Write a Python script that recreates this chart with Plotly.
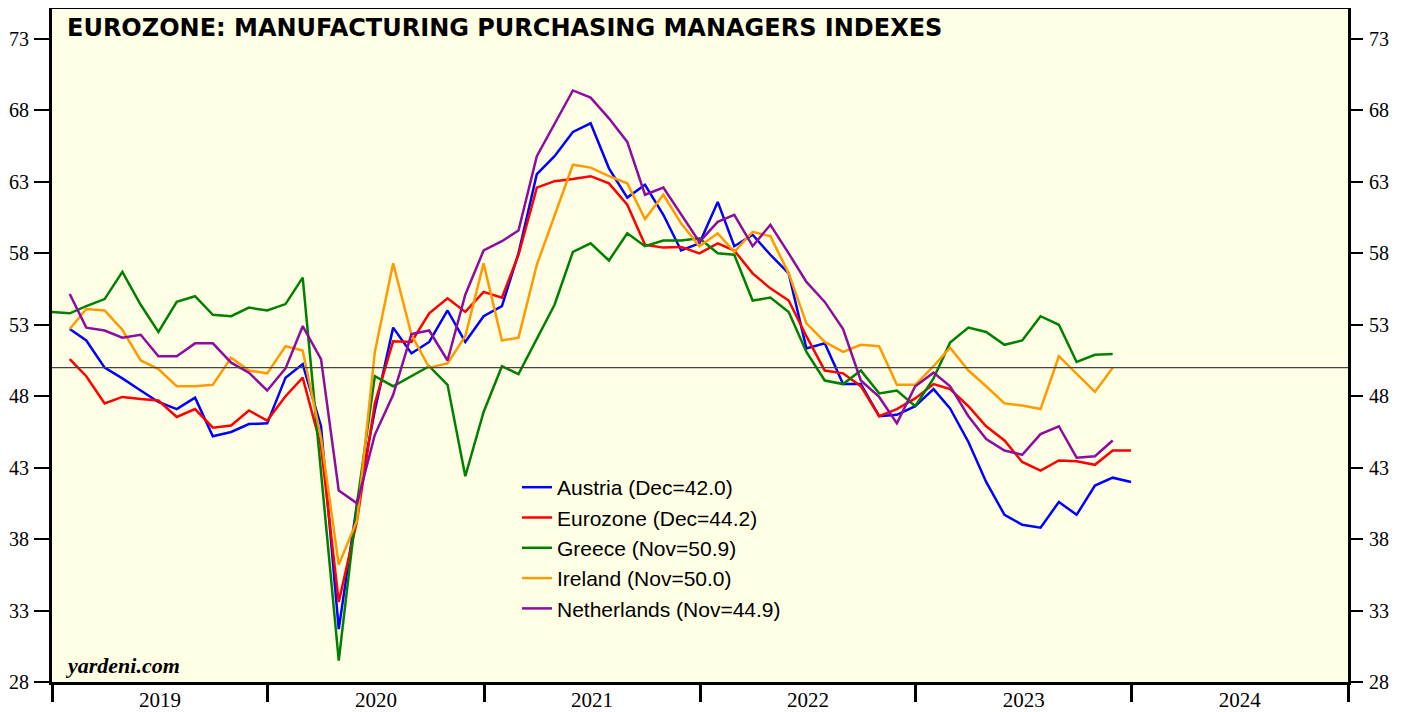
import pandas as pd
import plotly.graph_objects as go

# ---- data (monthly, plotted at month end) ----
austria = [52.7, 51.9, 50.0, 49.25, 48.4, 47.6, 47.1, 47.9, 45.2, 45.5, 46.05, 46.1,
           49.3, 50.25, 45.9, 31.7, 40.5, 47.0, 52.8, 51.0, 51.8, 54.0, 51.8, 53.6,
           54.3, 58.0, 63.55, 64.8, 66.5, 67.1, 63.95, 61.9, 62.8, 60.7, 58.2, 58.7,
           61.6, 58.5, 59.3, 57.9, 56.6, 51.35, 51.7, 48.85, 48.85, 46.6, 46.7, 47.3,
           48.5, 47.15, 44.8, 42.0, 39.7, 39.0, 38.8, 40.6, 39.7, 41.75, 42.3, 42.0]
eurozone = [50.6, 49.4, 47.5, 47.95, 47.8, 47.7, 46.55, 47.1, 45.8, 45.95, 47.0, 46.3,
            48.0, 49.3, 44.5, 33.6, 39.3, 47.5, 51.85, 51.8, 53.8, 54.85, 53.9, 55.3,
            54.9, 57.9, 62.6, 63.05, 63.2, 63.4, 62.9, 61.4, 58.6, 58.4, 58.45, 58.0,
            58.7, 58.2, 56.6, 55.55, 54.7, 52.2, 49.8, 49.6, 48.7, 46.6, 47.1, 47.85,
            48.85, 48.5, 47.3, 45.9, 44.9, 43.4, 42.8, 43.5, 43.45, 43.2, 44.2, 44.2]
greece = [53.9,
          53.8, 54.3, 54.8, 56.7, 54.4, 52.5, 54.6, 55.0, 53.7, 53.6, 54.2, 54.0,
          54.45, 56.3, 42.5, 29.5, 40.5, 49.4, 48.7, 49.4, 50.1, 48.8, 42.4, 46.9,
          50.1, 49.55, 52.0, 54.4, 58.1, 58.7, 57.5, 59.4, 58.5, 58.9, 58.9, 59.05,
          58.0, 57.9, 54.7, 54.9, 53.9, 51.1, 49.1, 48.85, 49.8, 48.2, 48.4, 47.3,
          49.25, 51.75, 52.8, 52.5, 51.6, 51.9, 53.6, 53.0, 50.4, 50.9, 50.95]
ireland = [52.7, 54.1, 54.0, 52.65, 50.5, 49.9, 48.7, 48.7, 48.8, 50.7, 49.8, 49.6,
           51.5, 51.2, 45.1, 36.2, 39.3, 51.1, 57.3, 52.3, 50.0, 50.3, 52.2, 57.3,
           51.9, 52.1, 57.2, 60.6, 64.2, 64.0, 63.4, 62.9, 60.4, 62.1, 60.1, 58.5,
           59.4, 58.1, 59.5, 59.2, 56.6, 53.1, 51.8, 51.1, 51.6, 51.5, 48.8, 48.8,
           50.1, 51.4, 49.8, 48.7, 47.5, 47.35, 47.1, 50.8, 49.6, 48.3, 50.0]
netherlands = [55.15, 52.8, 52.6, 52.1, 52.3, 50.8, 50.8, 51.7, 51.7, 50.35, 49.65, 48.4,
               49.95, 52.9, 50.6, 41.4, 40.5, 45.3, 48.1, 52.35, 52.6, 50.5, 55.1, 58.2,
               58.85, 59.6, 64.8, 67.1, 69.4, 68.9, 67.45, 65.8, 62.1, 62.6, 60.7, 58.8,
               60.2, 60.7, 58.5, 60.0, 58.0, 56.0, 54.6, 52.7, 49.1, 47.95, 46.1, 48.7,
               49.65, 48.7, 46.6, 45.0, 44.2, 43.9, 45.35, 45.9, 43.7, 43.8, 44.9]

series_names = ["Austria (Dec=42.0)", "Eurozone (Dec=44.2)", "Greece (Nov=50.9)",
                "Ireland (Nov=50.0)", "Netherlands (Nov=44.9)"]
series_start = ["2019-02-01", "2019-02-01", "2019-01-01", "2019-02-01", "2019-02-01"]
series_values = [austria, eurozone, greece, ireland, netherlands]
series_colors = ["#0000FF", "#FF0000", "#008000", "#FF9A00", "#8E0CA0"]

y_ticks = [28, 33, 38, 43, 48, 53, 58, 63, 68, 73]
title_text = "EUROZONE: MANUFACTURING PURCHASING MANAGERS INDEXES"
source_text = "yardeni.com"


def month_ends(start, n):
    return pd.date_range(start, periods=n, freq="MS") - pd.Timedelta(days=1)


fig = go.Figure()
for name, start, vals, col in zip(series_names, series_start, series_values, series_colors):
    fig.add_trace(go.Scatter(x=month_ends(start, len(vals)), y=vals, mode="lines",
                             name=name, line=dict(color=col, width=2.5)))

# invisible trace to activate right-hand axis
fig.add_trace(go.Scatter(x=month_ends("2019-02-01", len(eurozone)), y=eurozone, yaxis="y2",
                         mode="lines", line=dict(color="rgba(0,0,0,0)", width=0),
                         showlegend=False, hoverinfo="skip"))

fig.add_hline(y=50, line_color="#444444", line_width=1.2)

serif = "Liberation Serif"
sans = "Liberation Sans"
yrange = [28, 75.1]
tickfont = dict(family=serif, size=21, color="black")
ytickfont = dict(family=serif, size=20, color="black")

# page body has an 8px default margin; size/margins compensate for it
fig.update_layout(
    width=1399, height=704,
    margin=dict(l=44, r=59, t=1, b=30),
    paper_bgcolor="white",
    plot_bgcolor="#FFFFE5",
    showlegend=True,
    legend=dict(x=0.3588, y=0.3194, xanchor="left", yanchor="top",
                bgcolor="rgba(0,0,0,0)", borderwidth=0,
                font=dict(family=sans, size=21, color="black")),
    xaxis=dict(type="date", range=["2019-01-01", "2025-01-01"],
               tick0="2019-01-01", dtick="M12", tickformat="%Y",
               ticklabelmode="period", ticks="outside", ticklen=17, tickwidth=2.5,
               tickcolor="black", showline=True, linewidth=3, linecolor="black",
               mirror=True, showgrid=False, zeroline=False,
               tickfont=tickfont, ticklabelstandoff=-20, automargin=False),
    yaxis=dict(range=yrange, tickvals=y_ticks, ticks="outside", ticklen=15,
               tickwidth=1.5, tickcolor="black", showline=True, linewidth=3,
               linecolor="black", mirror=True, showgrid=False, zeroline=False,
               tickfont=ytickfont, ticklabelstandoff=1, automargin=False),
    yaxis2=dict(range=yrange, tickvals=y_ticks, overlaying="y", side="right",
                ticks="outside", ticklen=14, tickwidth=1.5, tickcolor="black",
                showline=False, showgrid=False, zeroline=False,
                tickfont=ytickfont, ticklabelstandoff=2, automargin=False),
    annotations=[
        dict(text="<b>" + title_text + "</b>", xref="paper", yref="paper",
             x=0.0100, y=0.9718, xanchor="left", yanchor="middle", showarrow=False,
             font=dict(family="DejaVu Sans", size=24, color="black")),
        dict(text="<b><i>" + source_text + "</i></b>", xref="paper", yref="paper",
             x=0.0085, y=0.024, xanchor="left", yanchor="middle", showarrow=False,
             font=dict(family=serif, size=22, color="black")),
    ],
)

fig.write_html("out.html")
